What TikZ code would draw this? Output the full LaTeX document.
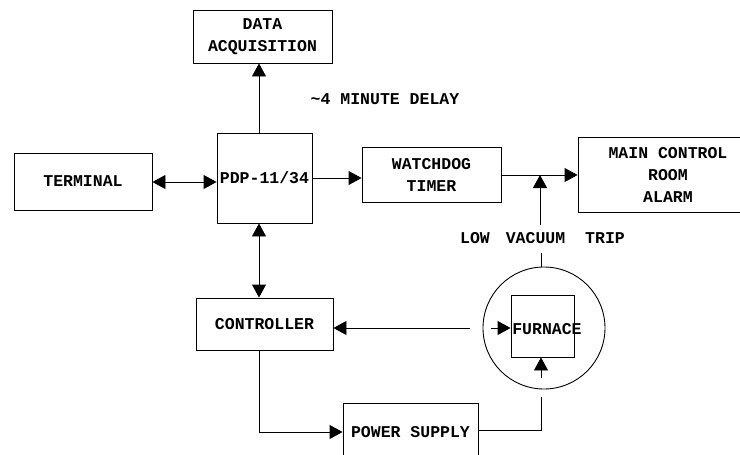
\documentclass[tikz,border=0pt]{standalone}
\usepackage{fontspec}
\setmonofont{Liberation Mono}
\usetikzlibrary{arrows.meta}
\tikzset{
  box/.style={draw, line width=0.9pt, inner sep=0pt, align=center, font=\ttfamily\bfseries\fontsize{16.5}{22}\selectfont},
  lbl/.style={inner sep=0pt, font=\ttfamily\bfseries\fontsize{16.5}{22}\selectfont},
  wire/.style={line width=0.9pt},
  arr/.style={wire, -{Triangle[length=13pt,width=14pt]}},
  arrb/.style={wire, {Triangle[length=13pt,width=14pt]}-{Triangle[length=13pt,width=14pt]}}
}
\begin{document}
\begin{tikzpicture}[x=1pt,y=-1pt]
\useasboundingbox (0,0) rectangle (740,455);
\node[box, minimum width=139pt, minimum height=53pt] (da) at (262.5,36.5) {DATA\\ACQUISITION};
\node[box, minimum width=138pt, minimum height=57pt] (term) at (83,181.5) {TERMINAL};
\node[box, minimum width=95pt, minimum height=90pt] (pdp) at (264.5,178) {PDP-11/34};
\node[box, minimum width=139pt, minimum height=55pt] (wd) at (431.5,174.5) {WATCHDOG\\TIMER};
\node[box, minimum width=180pt, minimum height=75pt] (alarm) at (668,174.5) {MAIN CONTROL\\ROOM\\ALARM};
\node[box, minimum width=137pt, minimum height=52pt] (ctrl) at (264.5,324) {CONTROLLER};
\node[box, minimum width=135pt, minimum height=58pt] (ps) at (410.5,432) {POWER SUPPLY};
\node[draw, wire, circle, minimum size=122pt, inner sep=0pt] (circ) at (544,328) {};
\node[draw, wire, minimum width=63pt, minimum height=62pt, inner sep=0pt] (fur) at (542.5,326) {};
\node[lbl] (furl) at (547,329) {FURNACE};
\node[lbl] (delay) at (385,99) {\char`\~4 MINUTE DELAY};
\node[lbl] (lvt) at (542.5,238) {LOW\hspace{16pt}VACUUM\hspace{20pt}TRIP};

\coordinate (junc) at (540,175);
\coordinate (lvtop) at (540,225);
\coordinate (lvbot) at (541,253);
\coordinate (cl) at (470,328);
\coordinate (cin) at (491,328);
\coordinate (cb) at (541,397);
\coordinate (cbin) at (541,378);

\draw[arr] (pdp.north -| 259,0) -- (da.south -| 259,0);
\draw[arrb] (term.east |- 0,182) -- (pdp.west |- 0,182);
\draw[arr] (pdp.east |- 0,178) -- (wd.west |- 0,178);
\draw[arr] (wd.east |- 0,175) -- (alarm.west |- 0,175);
\draw[arr] (lvtop) -- (junc);
\draw[wire] (circ.north -| lvbot) -- (lvbot);
\draw[arrb] (pdp.south -| 259,0) -- (ctrl.north -| 259,0);
\draw[arr] (cl) -- (ctrl.east |- cl);
\draw[arr] (cin) -- (fur.west |- cin);
\draw[arr] (ctrl.south -| 259,0) |- (ps.west);
\draw[wire] (ps.east |- 0,430) -| (cb);
\draw[arr] (cbin) -- (fur.south -| cbin);
\end{tikzpicture}
\end{document}
